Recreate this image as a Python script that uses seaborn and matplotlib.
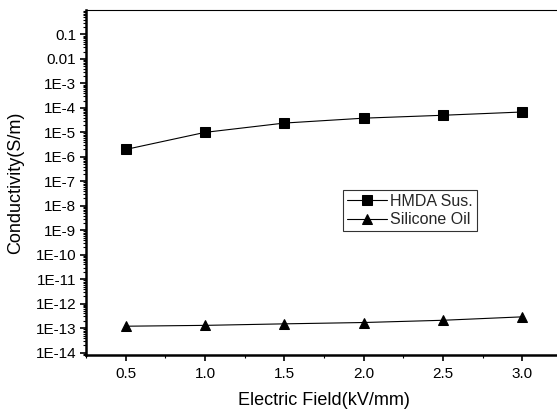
import matplotlib
matplotlib.use("Agg")
import matplotlib.pyplot as plt
import seaborn as sns
import numpy as np
import pandas as pd
from matplotlib.ticker import LogLocator, FixedLocator, MultipleLocator, NullFormatter

field = [0.5, 1.0, 1.5, 2.0, 2.5, 3.0]
hmda = [2.0e-6, 1.0e-5, 2.4e-5, 3.8e-5, 5.0e-5, 6.8e-5]
silicone = [1.2e-13, 1.3e-13, 1.5e-13, 1.7e-13, 2.1e-13, 2.9e-13]
ytick_vals = [1e-14, 1e-13, 1e-12, 1e-11, 1e-10, 1e-9, 1e-8, 1e-7, 1e-6, 1e-5, 1e-4, 1e-3, 1e-2, 1e-1]
ytick_labels = ["1E-14", "1E-13", "1E-12", "1E-11", "1E-10", "1E-9", "1E-8", "1E-7",
                "1E-6", "1E-5", "1E-4", "1E-3", "0.01", "0.1"]
xtick_vals = [0.5, 1.0, 1.5, 2.0, 2.5, 3.0]
xtick_labels = ["0.5", "1.0", "1.5", "2.0", "2.5", "3.0"]

sns.set_theme(style="ticks")
plt.rcParams['font.family'] = ['Liberation Sans', 'DejaVu Sans']

df = pd.DataFrame({
    "field": field * 2,
    "value": hmda + silicone,
    "series": ["HMDA Sus."] * 6 + ["Silicone Oil"] * 6,
})

fig = plt.figure(figsize=(5.57, 4.12), dpi=100)
ax = fig.add_axes([86/557, 1 - 355/412, (562-86)/557, (355-10)/412])

sns.lineplot(data=df, x="field", y="value", hue="series", style="series",
             markers={"HMDA Sus.": "s", "Silicone Oil": "^"}, dashes=False,
             palette={"HMDA Sus.": "black", "Silicone Oil": "black"},
             markersize=7, linewidth=0.8, markeredgecolor="black", ax=ax)

ax.set_yscale("log")
ax.set_ylim(8e-15, 1.0)
ax.set_xlim(0.25, 3.25)
ax.yaxis.set_major_locator(FixedLocator(ytick_vals))
ax.set_yticklabels(ytick_labels)
ax.yaxis.set_minor_locator(LogLocator(base=10, subs=np.arange(2, 10), numticks=100))
ax.yaxis.set_minor_formatter(NullFormatter())
ax.set_xticks(xtick_vals)
ax.set_xticklabels(xtick_labels)
ax.xaxis.set_minor_locator(MultipleLocator(0.25))

ax.tick_params(axis="both", which="major", direction="out", length=4, width=1.2,
               labelsize=11, colors="black")
ax.tick_params(axis="y", which="major", pad=3)
ax.tick_params(axis="x", which="major", pad=5)
ax.tick_params(axis="both", which="minor", direction="out", length=2.5, width=0.8, colors="black")

for s in ["left", "bottom"]:
    ax.spines[s].set_linewidth(1.8)
    ax.spines[s].set_color("black")
for s in ["top", "right"]:
    ax.spines[s].set_linewidth(0.8)
    ax.spines[s].set_color("black")

ax.set_xlabel("Electric Field(kV/mm)", fontsize=13, color="black")
ax.set_ylabel("Conductivity(S/m)", fontsize=13, color="black")
ax.xaxis.set_label_coords(0.5, (355 - 392) / 345)
ax.yaxis.set_label_coords((24 - 86) / 476, 0.5)

leg = ax.legend(loc="upper left", bbox_to_anchor=((343-86)/476, 1 - (190-10)/345),
                borderaxespad=0, frameon=True, fancybox=False, edgecolor="black",
                fontsize=11.5, handlelength=2.5, borderpad=0.25, labelspacing=0.2,
                handletextpad=0.2)
leg.get_frame().set_linewidth(0.8)
leg.set_title(None)

fig.savefig("out.png", dpi=100, facecolor="white")
